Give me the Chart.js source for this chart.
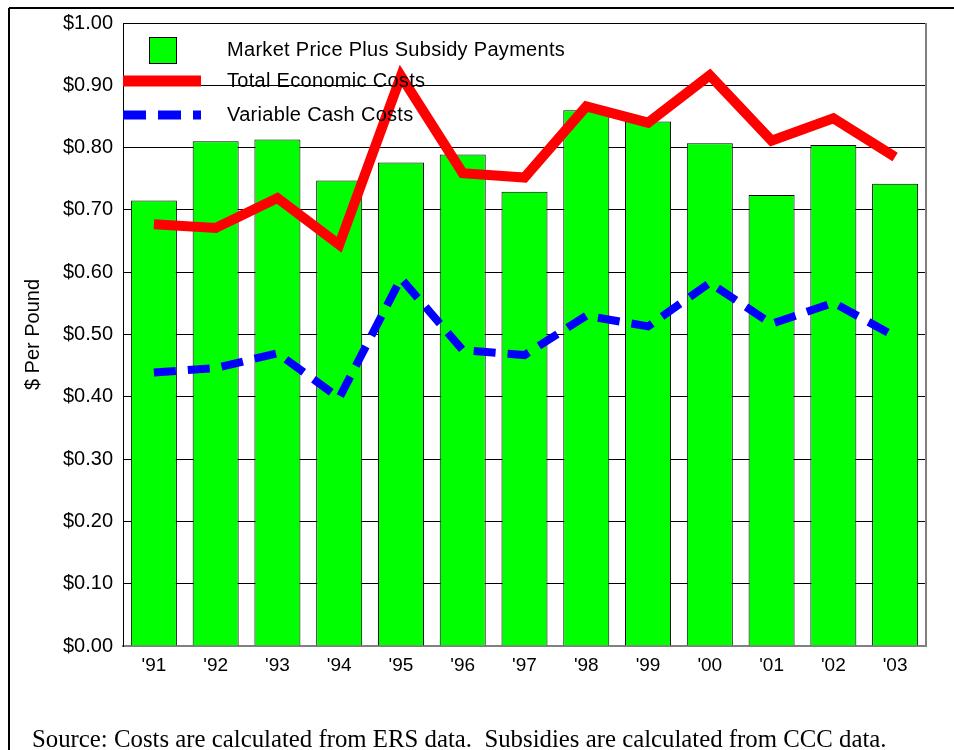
<!DOCTYPE html>
<html>
<head>
<meta charset="utf-8">
<script src="https://cdn.jsdelivr.net/npm/chart.js@4/dist/chart.umd.min.js"></script>
<style>
  html, body { margin: 0; padding: 0; background: #fff; }
  #wrap { position: relative; width: 954px; height: 750px; overflow: hidden; }
</style>
</head>
<body>
<div id="wrap"><canvas id="c" width="954" height="750"></canvas></div>
<script>
// ---- data ----
const categories = ["'91", "'92", "'93", "'94", "'95", "'96", "'97", "'98", "'99", "'00", "'01", "'02", "'03"];
const marketPlusSubsidy = [0.715, 0.810, 0.813, 0.747, 0.776, 0.789, 0.729, 0.860, 0.842, 0.807, 0.724, 0.804, 0.742];
const totalEconomicCosts = [0.677, 0.671, 0.719, 0.644, 0.915, 0.759, 0.752, 0.866, 0.840, 0.916, 0.811, 0.847, 0.785];
const variableCashCosts = [0.439, 0.446, 0.470, 0.398, 0.590, 0.475, 0.467, 0.530, 0.513, 0.583, 0.517, 0.551, 0.497];
const seriesLabels = ["Market Price Plus Subsidy Payments", "Total Economic Costs", "Variable Cash Costs"];
const yAxisTitle = "$ Per Pound";
const yMin = 0, yMax = 1, yStep = 0.1;
const sourceNote = "Source: Costs are calculated from ERS data.  Subsidies are calculated from CCC data.";

const SANS = '"Liberation Sans", Arial, sans-serif';
const SERIF = '"Liberation Serif", "Times New Roman", serif';

const decor = {
  id: 'decor',
  beforeDraw(chart) {
    const ctx = chart.ctx;
    ctx.save();
    ctx.fillStyle = '#fff';
    ctx.fillRect(0, 0, chart.width, chart.height);
    ctx.strokeStyle = '#000';
    ctx.lineWidth = 2;
    ctx.beginPath();
    ctx.moveTo(9, 8); ctx.lineTo(chart.width, 8);
    ctx.moveTo(9, 8); ctx.lineTo(9, chart.height);
    ctx.stroke();
    ctx.restore();
  },
  beforeDatasetsDraw(chart) {
    const ctx = chart.ctx, a = chart.chartArea;
    ctx.save();
    ctx.strokeStyle = '#808080';
    ctx.lineWidth = 2;
    ctx.beginPath();
    ctx.moveTo(a.right, a.top); ctx.lineTo(a.right, a.bottom);
    ctx.stroke();
    ctx.restore();
  },
  afterDatasetsDraw(chart) {
    const ctx = chart.ctx, a = chart.chartArea, ds = chart.data.datasets;
    ctx.save();
    // bar swatch
    ctx.fillStyle = ds[0].backgroundColor;
    ctx.fillRect(a.left + 26, a.top + 14, 28, 27);
    ctx.strokeStyle = '#000'; ctx.lineWidth = 1;
    ctx.strokeRect(a.left + 26.5, a.top + 14.5, 27, 26);
    // red line swatch
    ctx.strokeStyle = ds[1].borderColor; ctx.lineWidth = 11; ctx.lineCap = 'butt';
    ctx.beginPath(); ctx.moveTo(a.left, a.top + 58); ctx.lineTo(a.left + 78, a.top + 58); ctx.stroke();
    // blue dashed swatch
    ctx.strokeStyle = ds[2].borderColor; ctx.lineWidth = 9; ctx.setLineDash([23, 12]);
    ctx.beginPath(); ctx.moveTo(a.left, a.top + 92); ctx.lineTo(a.left + 78, a.top + 92); ctx.stroke();
    ctx.setLineDash([]);
    // texts
    ctx.fillStyle = '#000';
    ctx.font = '20px ' + SANS;
    ctx.textBaseline = 'middle';
    ctx.textAlign = 'left';
    try { ctx.letterSpacing = '0.3px'; } catch (e) {}
    const ys = [27, 58, 92];
    for (let i = 0; i < 3; i++) ctx.fillText(ds[i].label, a.left + 104, a.top + ys[i]);
    ctx.restore();
  },
  afterDraw(chart) {
    const ctx = chart.ctx;
    ctx.save();
    ctx.fillStyle = '#000';
    ctx.font = '24.8px ' + SERIF;
    ctx.textBaseline = 'alphabetic';
    ctx.textAlign = 'left';
    ctx.fillText(sourceNote, 32, 747);
    ctx.restore();
  }
};

new Chart(document.getElementById('c'), {
  type: 'bar',
  data: {
    labels: categories,
    datasets: [
      { type: 'bar', label: seriesLabels[0], data: marketPlusSubsidy,
        backgroundColor: '#00ff00', borderColor: '#000', borderWidth: 1,
        barPercentage: 0.745, categoryPercentage: 1, order: 3 },
      { type: 'line', label: seriesLabels[1], data: totalEconomicCosts,
        borderColor: '#ff0000', borderWidth: 10, pointRadius: 0, tension: 0,
        borderJoinStyle: 'miter', borderCapStyle: 'butt', fill: false, order: 2 },
      { type: 'line', label: seriesLabels[2], data: variableCashCosts,
        borderColor: '#0000ff', borderWidth: 8, borderDash: [22, 12], pointRadius: 0, tension: 0,
        borderJoinStyle: 'miter', borderCapStyle: 'butt', fill: false, order: 1 }
    ]
  },
  options: {
    responsive: false,
    animation: false,
    devicePixelRatio: 1,
    layout: { padding: { top: 23, right: 28, bottom: 0, left: 0 } },
    plugins: { legend: { display: false }, tooltip: { enabled: false }, title: { display: false } },
    scales: {
      x: {
        type: 'category', offset: true,
        grid: { display: false, drawTicks: false },
        border: { display: true, color: '#808080', width: 2 },
        ticks: { padding: 8, color: '#000', font: { family: SANS, size: 19 }, maxRotation: 0, autoSkip: false },
        afterFit(s) { s.height = 104; }
      },
      y: {
        min: yMin, max: yMax,
        ticks: { stepSize: yStep, padding: 10, color: '#000', font: { family: SANS, size: 20 },
                 callback: v => '$' + Number(v).toFixed(2) },
        grid: { color: c => (c.tick && c.tick.value === 0) ? '#808080' : '#000', lineWidth: 1, drawTicks: false },
        border: { display: true, color: '#000', width: 1 },
        title: { display: true, text: yAxisTitle, color: '#000', font: { family: SANS, size: 20 }, padding: { top: 21, bottom: 0 } },
        afterFit(s) { s.width = 123; }
      }
    }
  },
  plugins: [decor]
});
</script>
</body>
</html>
